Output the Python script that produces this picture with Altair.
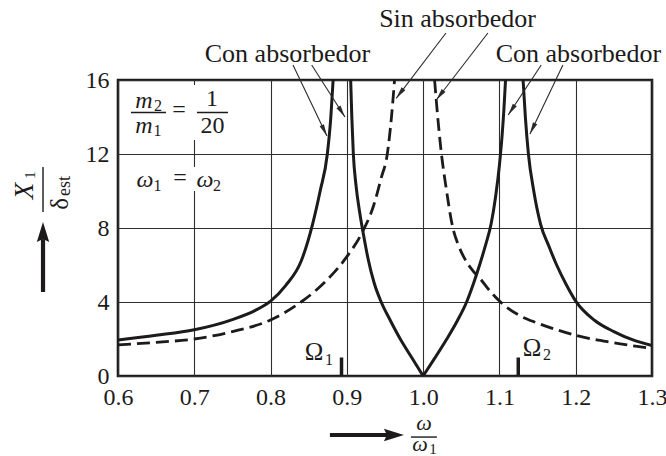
import math
import altair as alt
import pandas as pd

# ---- amplitude ratio X1/delta_est against frequency ratio omega/omega1 ----
# with absorber (m2/m1 = 1/20, omega1 = omega2): branch below the first peak
con_a_x = [0.60, 0.65, 0.70, 0.75, 0.78, 0.80, 0.82, 0.84, 0.855, 0.865, 0.8744, 0.879, 0.882]
con_a_y = [1.95, 2.20, 2.50, 3.05, 3.55, 4.05, 4.90, 6.20, 8.20, 10.0, 12.0, 14.0, 16.0]

# between the two peaks: falling arm down to zero at omega = omega1, then rising arm
con_b1_x = [0.905, 0.9065, 0.9085, 0.912, 0.917, 0.922, 0.928, 0.936, 0.945, 0.957, 0.970, 0.985, 1.000]
con_b1_y = [16.0, 14.0, 12.0, 10.3, 8.8, 7.6, 6.3, 5.0, 4.0, 3.0, 2.0, 1.0, 0.0]
con_b2_x = [1.000, 1.015, 1.031, 1.045, 1.057, 1.066, 1.074, 1.082, 1.089, 1.095, 1.100, 1.1035, 1.106, 1.108]
con_b2_y = [0.0, 0.95, 2.0, 3.0, 4.0, 5.0, 6.0, 7.1, 8.2, 9.7, 11.4, 13.0, 14.5, 16.0]

# above the second peak
con_c_x = [1.131, 1.134, 1.138, 1.145, 1.154, 1.165, 1.175, 1.1875, 1.200, 1.225, 1.250, 1.275, 1.300]
con_c_y = [16.0, 14.0, 12.0, 10.0, 8.2, 7.0, 6.0, 4.95, 4.05, 3.0, 2.4, 1.95, 1.65]

# without absorber: two branches around resonance
sin_a_x = [0.60, 0.65, 0.70, 0.75, 0.80, 0.84, 0.86, 0.88, 0.90, 0.92, 0.935, 0.945, 0.953, 0.9585, 0.9625]
sin_a_y = [1.68, 1.82, 2.00, 2.40, 3.03, 4.00, 4.65, 5.45, 6.45, 7.75, 9.2, 10.7, 12.0, 14.0, 16.0]

sin_b_x = [1.015, 1.020, 1.024, 1.030, 1.039, 1.046, 1.055, 1.065, 1.075, 1.085, 1.100, 1.125, 1.150,
           1.175, 1.200, 1.225, 1.250, 1.275, 1.300]
sin_b_y = [16.0, 13.6, 12.0, 10.2, 8.0, 7.1, 6.3, 5.7, 5.25, 4.72, 4.05, 3.3, 2.86,
           2.5, 2.2, 1.97, 1.8, 1.63, 1.5]

x_ticks = [0.6, 0.7, 0.8, 0.9, 1.0, 1.1, 1.2, 1.3]
y_ticks = [0, 4, 8, 12, 16]

# natural frequencies of the combined system
omega_marks = [0.893, 1.1247]

FONT = "Liberation Serif"
INK = "#1c1a1a"
W, H = 534, 296
PX_R, PX_A = W / 0.7, H / 16.0   # screen pixels per data unit


def branch(xs, ys, name):
    return pd.DataFrame({"r": xs, "amp": ys, "branch": name})


con_df = pd.concat([branch(con_a_x, con_a_y, "a"), branch(con_b1_x, con_b1_y, "b1"),
                    branch(con_b2_x, con_b2_y, "b2"), branch(con_c_x, con_c_y, "c")])
sin_df = pd.concat([branch(sin_a_x, sin_a_y, "a"), branch(sin_b_x, sin_b_y, "b")])

x_scale = alt.Scale(domain=[0.6, 1.3], nice=False, zero=False)
y_scale = alt.Scale(domain=[0, 16], nice=False, zero=False)

X = alt.X("r:Q", title=None, scale=x_scale,
          axis=alt.Axis(values=x_ticks, format=".1f", grid=True, ticks=False, domain=False,
                        labelPadding=9, labelFlush=False, labelOverlap=False))
Y = alt.Y("amp:Q", title=None, scale=y_scale,
          axis=alt.Axis(values=y_ticks, format="d", grid=True, ticks=False, domain=False,
                        labelPadding=9, labelOverlap=False))

con_lines = alt.Chart(con_df).mark_line(color=INK, strokeWidth=3, interpolate="monotone").encode(
    x=X, y=Y, detail="branch:N")
sin_lines = alt.Chart(sin_df).mark_line(color=INK, strokeWidth=2.8, strokeDash=[13, 6],
                                        interpolate="monotone").encode(
    x=X, y=Y, detail="branch:N")

# white patches where the inset formulas interrupt the 0.7 grid line
masks = alt.Chart(pd.DataFrame({
    "r": [0.6965, 0.6965], "r2": [0.7035, 0.7035],
    "amp": [12.76, 10.0], "amp2": [15.73, 11.3],
})).mark_rect(color="white").encode(x=X, x2="r2:Q", y=Y, y2="amp2:Q")

# Omega_1 / Omega_2 markers on the frequency axis
omega_df = pd.DataFrame({"r": omega_marks, "amp": [0, 0], "amp2": [1.0, 1.0]})
omega_ticks = alt.Chart(omega_df).mark_rule(color=INK, strokeWidth=3.5).encode(
    x=X, y=Y, y2="amp2:Q")

# leader arrows from the curve labels
lead_r0 = [0.8294, 0.8539, 1.0299, 1.0849, 1.1548, 1.1832]
lead_a0 = [16.81, 16.81, 18.54, 18.54, 16.81, 16.81]
lead_r1 = [0.8739, 0.8975, 0.9647, 1.0172, 1.1115, 1.1400]
lead_a1 = [12.97, 14.00, 15.01, 14.92, 14.11, 13.08]
lead_ang = [
    math.degrees(math.atan2((b - a) * PX_R, (d - c) * PX_A)) % 360
    for a, b, c, d in zip(lead_r0, lead_r1, lead_a0, lead_a1)
]
leader_lines = alt.Chart(pd.DataFrame({
    "r": lead_r0, "amp": lead_a0, "r2": lead_r1, "amp2": lead_a1,
})).mark_rule(color="#2a2a2a", strokeWidth=1.1).encode(
    x=X, y=Y, x2="r2:Q", y2="amp2:Q")
leader_heads = alt.Chart(pd.DataFrame({
    "r": lead_r1, "amp": lead_a1, "ang": lead_ang,
})).mark_point(
    shape="M0,0L-0.4,2L0.4,2Z", filled=True, opacity=1, color="#2a2a2a", size=144
).encode(x=X, y=Y, angle=alt.Angle("ang:Q", scale=None))

# axis-title arrows (vertical for X1/delta, horizontal for omega/omega1)
shafts = pd.DataFrame({
    "r": [0.5017, 0.8778], "r2": [0.5017, 0.958],
    "amp": [4.54, -3.19], "amp2": [7.4, -3.19],
})
big_shafts = alt.Chart(shafts).mark_rule(color=INK, strokeWidth=4.2).encode(
    x=X, y=Y, x2="r2:Q", y2="amp2:Q")
big_heads = alt.Chart(pd.DataFrame({"r": [0.5017, 0.9748], "amp": [8.32, -3.19], "ang": [0, 90]})).mark_point(
    shape="M0,0L-0.62,2L0,1.7L0.62,2Z", filled=True, opacity=1, color=INK, size=400
).encode(x=X, y=Y, angle=alt.Angle("ang:Q", scale=None))

# fraction bars
bars = pd.DataFrame({
    "r": [0.6170, 0.7035, 0.9840, 0.5017],
    "r2": [0.6629, 0.7442, 1.0180, 0.5017],
    "amp": [14.24, 14.24, -3.30, 8.86],
    "amp2": [14.24, 14.24, -3.30, 11.30],
})
frac_bars = alt.Chart(bars).mark_rule(color=INK, strokeWidth=1.4).encode(
    x=X, y=Y, x2="r2:Q", y2="amp2:Q")


def texts(rows, italic=False):
    df = pd.DataFrame(rows, columns=["r", "amp", "t", "size", "ang"])
    return alt.Chart(df).mark_text(
        font=FONT, fontStyle="italic" if italic else "normal", color=INK,
        align="center", baseline="alphabetic"
    ).encode(x=X, y=Y, text="t:N",
             size=alt.Size("size:Q", scale=None),
             angle=alt.Angle("ang:Q", scale=None))


upright = texts([
    (0.8221, 16.97, "Con absorbedor", 26, 0),
    (1.0450, 18.88, "Sin absorbedor", 26, 0),
    (1.2035, 16.97, "Con absorbedor", 26, 0),
    (0.6524, 14.32, "2", 16, 0),
    (0.6518, 12.97, "1", 16, 0),
    (0.6799, 14.00, "=", 24, 0),
    (0.7232, 14.59, "1", 24, 0),
    (0.7239, 13.14, "20", 24, 0),
    (0.6518, 10.00, "1", 16, 0),
    (0.6813, 10.35, "=", 24, 0),
    (0.7298, 10.00, "2", 16, 0),
    (0.8569, 0.865, "\u03a9", 25, 0),
    (0.8765, 0.62, "1", 16, 0),
    (1.1426, 1.08, "\u03a9", 25, 0),
    (1.1622, 0.84, "2", 16, 0),
    (1.0128, -4.24, "1", 15, 0),
    (0.4906, 10.86, "1", 15, 270),
    (0.5345, 9.30, "\u03b4", 25, 270),
    (0.5365, 10.27, "est", 18, 270),
])

italic = texts([
    (0.6341, 14.49, "m", 24, 0),
    (0.6341, 13.14, "m", 24, 0),
    (0.6354, 10.22, "\u03c9", 24, 0),
    (0.7140, 10.22, "\u03c9", 24, 0),
    (1.0012, -2.92, "\u03c9", 22, 0),
    (0.9958, -4.08, "\u03c9", 22, 0),
    (0.4886, 10.00, "X", 27, 270),
], italic=True)

chart = alt.layer(
    masks, omega_ticks, sin_lines, con_lines, leader_lines, leader_heads,
    big_shafts, big_heads, frac_bars, upright, italic,
).properties(
    width=W, height=H,
    autosize=alt.AutoSizeParams(type="none"),
    padding={"left": 118, "top": 80, "right": 14, "bottom": 80},
    background="white",
).configure_view(
    stroke=INK, strokeWidth=2.6
).configure_axis(
    labelFont=FONT, labelFontSize=24, labelColor=INK,
    gridColor="#2e2e2e", gridWidth=1.1, gridOpacity=1,
)

chart.save("out.html", embed_options={"renderer": "svg", "actions": False})
